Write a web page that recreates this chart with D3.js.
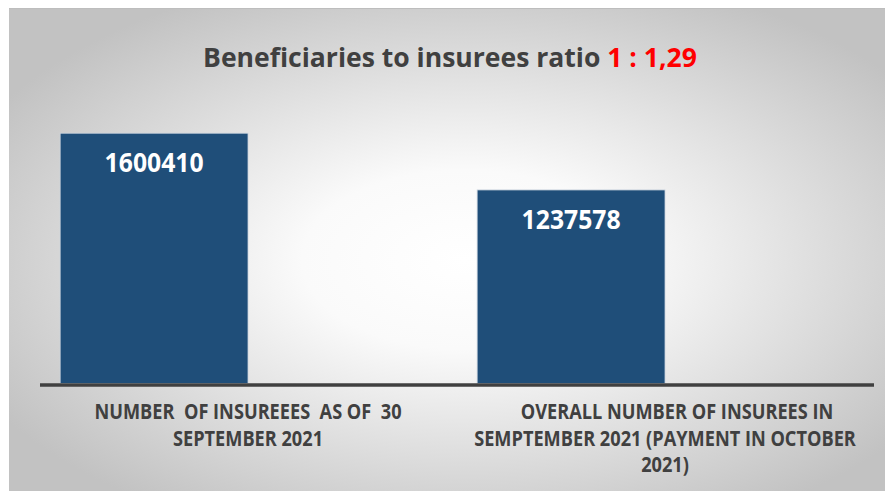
<!DOCTYPE html>
<html>
<head>
<meta charset="utf-8">
<script src="https://cdn.jsdelivr.net/npm/d3@7"></script>
<style>
  html, body { margin: 0; padding: 0; background: #ffffff; }
  svg { display: block; }
  text { font-family: "Open Sans", "Noto Sans", sans-serif; font-weight: 700; white-space: pre; }
</style>
</head>
<body>
<svg id="chart" width="885" height="491"></svg>
<script>
// ---- data ----
const categories = [
  "NUMBER  OF INSUREEES  AS OF  30 SEPTEMBER 2021",
  "OVERALL NUMBER OF INSUREES IN SEMPTEMBER 2021 (PAYMENT IN OCTOBER 2021)"
];
const categoryLines = [
  ["NUMBER  OF INSUREEES  AS OF  30", "SEPTEMBER 2021"],
  ["OVERALL NUMBER OF INSUREES IN", "SEMPTEMBER 2021 (PAYMENT IN OCTOBER", "2021)"]
];
const seriesNames = ["Insurees", ""];
const values = [1600410, 1237578];
const titleMain = "Beneficiaries to insurees ratio ";
const titleRatio = "1 : 1,29";
const yMax = 1800000;

// ---- layout ----
const W = 885, H = 491;
const svg = d3.select("#chart");
const defs = svg.append("defs");
const grad = defs.append("radialGradient")
  .attr("id", "bg").attr("cx", "52%").attr("cy", "52%").attr("r", "62%");
grad.append("stop").attr("offset", "0").attr("stop-color", "#ffffff");
grad.append("stop").attr("offset", "0.3").attr("stop-color", "#fafafa");
grad.append("stop").attr("offset", "1").attr("stop-color", "#c2c2c2");

svg.append("rect").attr("x", 9).attr("y", 8).attr("width", W - 9).attr("height", 1)
  .attr("fill", "#bdbdbd");
svg.append("rect").attr("x", 9).attr("y", 9).attr("width", W - 9).attr("height", H - 9)
  .attr("fill", "url(#bg)");

const baseline = 383.5;
const x = d3.scaleBand().domain(categories).range([39.5, 873.5]).paddingInner(0).paddingOuter(0);
const xs = d3.scaleBand().domain(seriesNames).range([0, x.bandwidth()]).paddingInner(0).paddingOuter(0.11);
const y = d3.scaleLinear().domain([0, yMax]).range([baseline, 102]);

function condense(sel, target) {
  sel.each(function () {
    const t = d3.select(this);
    const w = this.getComputedTextLength();
    const cx = +t.attr("data-x"), cy = +t.attr("data-y");
    t.attr("x", 0).attr("y", 0)
     .attr("transform", `translate(${cx},${cy}) scale(${target / w},1)`);
  });
}

// bars
const bars = svg.append("g");
bars.selectAll("rect").data(values).join("rect")
  .attr("x", (d, i) => x(categories[i]) + xs(seriesNames[0]))
  .attr("width", xs.bandwidth())
  .attr("y", d => y(d))
  .attr("height", d => baseline - y(d))
  .attr("fill", "#1f4e79")
  .attr("stroke", "#c9d3de").attr("stroke-width", 0.8);

// value labels
const vl = svg.append("g").selectAll("text").data(values).join("text")
  .attr("text-anchor", "middle")
  .attr("data-x", (d, i) => x(categories[i]) + xs(seriesNames[0]) + xs.bandwidth() / 2)
  .attr("data-y", d => y(d) + 39)
  .attr("font-size", 26)
  .attr("fill", "#ffffff")
  .text(d => String(d));
vl.each(function () { condense(d3.select(this), 99); });

// axis line
const axis = svg.append("g").attr("transform", `translate(0,${baseline + 1})`)
  .call(d3.axisBottom(x).tickSize(0).tickFormat(""));
axis.select(".domain").attr("stroke", "#404040").attr("stroke-width", 3.5);

// category labels
const lineH = 26.5;
const catG = svg.append("g");
const catTexts = [];
categoryLines.forEach((lines, i) => {
  lines.forEach((ln, j) => {
    const t = catG.append("text")
      .attr("text-anchor", "middle")
      .attr("xml:space", "preserve")
      .attr("data-x", x(categories[i]) + x.bandwidth() / 2 + (i === 1 && j === 0 ? 12 : 0))
      .attr("data-y", 419 + j * lineH)
      .attr("font-size", 20.5)
      .attr("fill", "#404040")
      .text(ln);
    catTexts.push(t);
  });
});
// uniform condense factor from the longest line
const refNode = catTexts[3].node();
const kCat = 382 / refNode.getComputedTextLength();
catTexts.forEach(t => {
  const w = t.node().getComputedTextLength();
  condense(t, w * kCat);
});

// title
const title = svg.append("text")
  .attr("text-anchor", "middle")
  .attr("data-x", 450).attr("data-y", 67)
  .attr("font-size", 26);
title.append("tspan").attr("fill", "#404040").text(titleMain);
title.append("tspan").attr("fill", "#ff0000").text(titleRatio);
condense(title, 494);
</script>
</body>
</html>
